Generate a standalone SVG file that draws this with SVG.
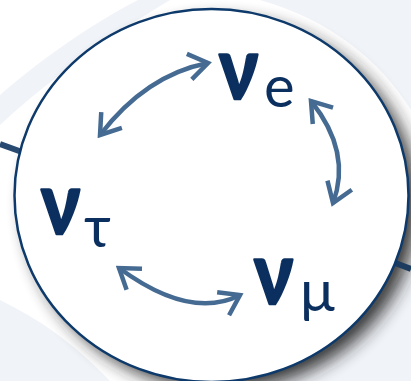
<svg xmlns="http://www.w3.org/2000/svg" width="411" height="381" viewBox="0 0 411 381">
<style>
.nu{font-family:Lato,"Open Sans",sans-serif;font-weight:700;font-size:87px;fill:#0b2f5f;stroke:#0b2f5f;stroke-width:2.6;stroke-linejoin:round}
.sub{font-family:Lato,"Open Sans",sans-serif;font-weight:400;font-size:58px;fill:#0b2f5f}
.arr{fill:none;stroke:#466b93;stroke-width:4.5;marker-start:url(#head);marker-end:url(#head)}
.bg{fill:#f0f3f8}
</style>
<defs>
<marker id="head" markerUnits="userSpaceOnUse" viewBox="-22 -16 26 32" refX="0" refY="0" markerWidth="26" markerHeight="32" orient="auto-start-reverse">
<path d="M-19,-13 L0,0 L-19,13" fill="none" stroke="#466b93" stroke-width="4.5"/>
</marker>
<filter id="blur" x="-20%" y="-20%" width="140%" height="140%">
<feGaussianBlur stdDeviation="9"/>
</filter>
</defs>
<rect width="411" height="381" fill="#ffffff"/>
<g id="background">
<path class="bg" d="M138,0 L170,0 C120,30 60,70 0,125 L0,95 C40,60 90,25 138,0 Z"/>
<path class="bg" d="M0,300 C40,320 70,340 110,381 L0,381 Z"/>
<path class="bg" d="M260,0 L411,0 L411,110 C380,60 330,20 260,0 Z"/>
<path class="bg" d="M411,260 L411,381 L250,381 C330,350 380,310 411,260 Z"/>
</g>
<ellipse cx="222" cy="205" rx="196" ry="185" fill="#222222" opacity="0.9" filter="url(#blur)"/>
<g id="links">
<line x1="0" y1="144" x2="22" y2="152" stroke="#284a70" stroke-width="6"/>
<line x1="390" y1="261" x2="411" y2="269" stroke="#1d3b5e" stroke-width="6"/>
</g>
<g id="vessel">
<ellipse cx="211.5" cy="195.5" rx="197" ry="186.5" fill="#ffffff" stroke="#0d3a6b" stroke-width="2.5"/>
</g>
<g id="connectors">
<path class="arr" d="M100,135 Q146,75 208,63"/>
<path class="arr" d="M311,101 Q352,152 333,203"/>
<path class="arr" d="M119,268 Q190.5,320.5 240,295"/>
</g>
<g id="nu-e">
<text class="nu" transform="translate(219,99) scale(0.86,1)">ν</text>
<text class="sub" x="264" y="107">e</text>
</g>
<g id="nu-tau">
<text class="nu" transform="translate(41,234) scale(0.86,1)">ν</text>
<text class="sub" x="84" y="247">τ</text>
</g>
<g id="nu-mu">
<text class="nu" transform="translate(254,304) scale(0.86,1)">ν</text>
<text class="sub" x="300" y="311">μ</text>
</g>
</svg>
